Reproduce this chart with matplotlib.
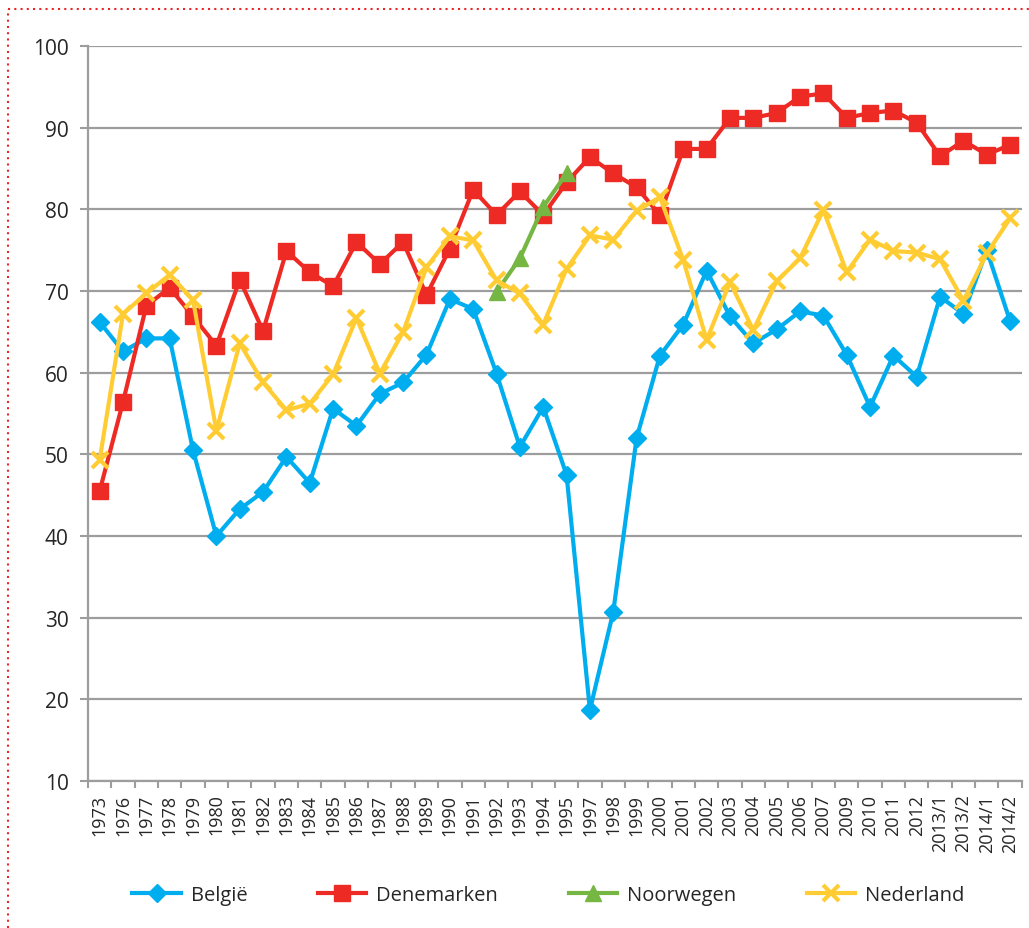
import numpy as np
import matplotlib.pyplot as plt
from matplotlib.lines import Line2D

jaren = ['1973', '1976', '1977', '1978', '1979', '1980', '1981', '1982', '1983', '1984',
         '1985', '1986', '1987', '1988', '1989', '1990', '1991', '1992', '1993', '1994',
         '1995', '1997', '1998', '1999', '2000', '2001', '2002', '2003', '2004', '2005',
         '2006', '2007', '2009', '2010', '2011', '2012', '2013/1', '2013/2', '2014/1', '2014/2']

belgie = [66.2, 62.6, 64.2, 64.2, 50.5, 40.0, 43.3, 45.4, 49.7, 46.5,
          55.6, 53.5, 57.4, 58.8, 62.2, 69.0, 67.8, 59.9, 50.9, 55.8,
          47.5, 18.7, 30.7, 52.0, 62.1, 65.9, 72.5, 66.9, 63.6, 65.3,
          67.5, 67.0, 62.2, 55.8, 62.1, 59.5, 69.3, 67.2, 75.0, 66.3]

denemarken = [45.5, 56.4, 68.2, 70.4, 66.9, 63.3, 71.4, 65.1, 74.9, 72.3,
              70.6, 76.0, 73.3, 76.0, 69.5, 75.2, 82.4, 79.3, 82.2, 79.3,
              83.3, 86.4, 84.4, 82.7, 79.3, 87.4, 87.4, 91.2, 91.2, 91.8,
              93.8, 94.2, 91.2, 91.8, 92.1, 90.6, 86.5, 88.4, 86.7, 87.9]

nan = np.nan
noorwegen = [nan] * 17 + [69.9, 74.0, 80.3, 84.4] + [nan] * 19

nederland = [49.3, 67.2, 69.7, 72.0, 68.9, 52.9, 63.6, 58.8, 55.4, 56.2,
             59.8, 66.7, 59.9, 65.0, 72.9, 76.7, 76.2, 71.3, 69.7, 65.9,
             72.7, 76.8, 76.3, 79.8, 81.5, 73.8, 64.0, 71.1, 65.2, 71.2,
             74.0, 79.9, 72.3, 76.3, 74.9, 74.7, 73.9, 68.8, 74.6, 78.9]

plt.rcParams['font.family'] = ['Open Sans', 'DejaVu Sans']
plt.rcParams['text.color'] = '#262626'

fig = plt.figure(figsize=(10.29, 9.29), dpi=100)
ax = fig.add_axes([0.0855, 0.1582, 0.9075, 0.7912])

x = np.arange(len(jaren))
grijs = '#9d9d9d'
tekst = '#262626'

ax.plot(x, belgie, color='#00AEEF', lw=3, marker='D', ms=9, label='België', zorder=3)
ax.plot(x, denemarken, color='#EE2A24', lw=3, marker='s', ms=11.5, label='Denemarken', zorder=4)
ax.plot(x, noorwegen, color='#76B743', lw=3, marker='^', ms=11, label='Noorwegen', zorder=5)
ax.plot(x, nederland, color='#FFCD33', lw=3, marker='x', ms=12, mew=3, label='Nederland', zorder=6)

ax.set_xlim(-0.5, len(jaren) - 0.5)
ax.set_ylim(10, 100)
ax.set_yticks(range(10, 101, 10))
ax.set_xticks(x)
ax.set_xticklabels(jaren, rotation=90, fontsize=13, color=tekst)
ax.set_xticks(np.arange(-0.5, len(jaren)), minor=True)
ax.tick_params(axis='x', which='major', length=0, pad=9)
ax.tick_params(axis='x', which='minor', length=5, width=1.5, color=grijs)
ax.tick_params(axis='y', length=6, width=1.5, color=grijs, labelsize=15, labelcolor=tekst, pad=8)

ax.grid(axis='y', color=grijs, lw=1.6)
ax.set_axisbelow(True)
for kant in ['top', 'right']:
    ax.spines[kant].set_visible(False)
ax.spines['left'].set_color(grijs)
ax.spines['left'].set_linewidth(1.6)
ax.spines['bottom'].set_color(grijs)
ax.spines['bottom'].set_linewidth(1.6)

fig.legend(loc='center', bbox_to_anchor=(0.533, 0.035), ncol=4, frameon=False,
           fontsize=14.5, handlelength=2.4, columnspacing=3.5, handletextpad=0.5)

# rode stippelrand links en boven
fig.add_artist(Line2D([0.008, 1.0], [0.989, 0.989], transform=fig.transFigure,
                      color='#E8262A', lw=1.5, ls=(0, (1, 2))))
fig.add_artist(Line2D([0.008, 0.008], [0.0, 0.989], transform=fig.transFigure,
                      color='#E8262A', lw=1.5, ls=(0, (1, 2))))

fig.savefig('out.png', dpi=100)
